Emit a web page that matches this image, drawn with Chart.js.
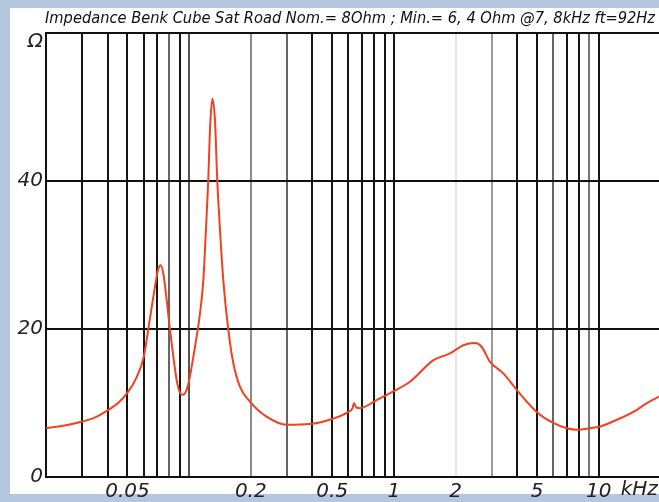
<!DOCTYPE html>
<html>
<head>
<meta charset="utf-8">
<script src="https://cdn.jsdelivr.net/npm/chart.js@4.4.1/dist/chart.umd.min.js"></script>
<style>
  html, body { margin: 0; padding: 0; background: #b4c7df; }
  canvas { display: block; }
</style>
</head>
<body>
<canvas id="impChart" width="659" height="502"></canvas>
<script>
// impedance sweep, frequency in kHz, impedance in ohm
const freqKHz = [
  0.020, 0.025, 0.030, 0.035, 0.040, 0.045, 0.050, 0.055, 0.060, 0.064,
  0.068, 0.0705, 0.0726, 0.0748, 0.0777, 0.0806, 0.0837, 0.0869, 0.0902, 0.093,
  0.0973, 0.1009, 0.1068, 0.113, 0.1173, 0.1208, 0.124, 0.1264, 0.1298, 0.1337,
  0.1372, 0.1415, 0.1468, 0.1553, 0.1643, 0.177, 0.198, 0.239, 0.30, 0.39,
  0.506, 0.599, 0.628, 0.638, 0.655, 0.682, 0.824, 1.0, 1.2, 1.56,
  1.88, 2.18, 2.49, 2.68, 2.94, 3.42, 3.97, 4.98, 6.0, 6.97,
  7.9, 9.06, 10.1, 12.2, 15.3, 17.1, 19.7
];
const impedance = [
  6.6, 7.0, 7.5, 8.1, 9.0, 10.0, 11.4, 13.3, 16.2, 21.0,
  25.6, 28.0, 28.6, 27.5, 23.9, 19.9, 16.3, 13.1, 11.4, 11.1,
  11.8, 13.6, 17.6, 22.1, 26.6, 33.4, 40.1, 46.9, 51.1, 48.2,
  40.1, 33.4, 26.6, 19.9, 15.4, 12.2, 10.2, 8.15, 7.05, 7.15,
  7.9, 8.8, 9.3, 10.0, 9.4, 9.3, 10.4, 11.6, 12.9, 15.8,
  16.7, 17.8, 18.1, 17.6, 15.6, 14.0, 11.8, 8.8, 7.3, 6.6,
  6.4, 6.6, 6.8, 7.7, 9.05, 9.95, 10.85
];

// vertical grid positions and the ones that carry a label
const gridFreqs = [
  0.02, 0.03, 0.04, 0.05, 0.06, 0.07, 0.08, 0.09,
  0.1, 0.2, 0.3, 0.4, 0.5, 0.6, 0.7, 0.8, 0.9,
  1, 2, 3, 4, 5, 6, 7, 8, 9, 10
];
const labelFreqs = [0.05, 0.2, 0.5, 1, 2, 5, 10];
const yTickValues = [0, 20, 40, 60];

const titleText = 'Impedance Benk Cube Sat Road Nom.= 8Ohm ; Min.= 6, 4 Ohm @7, 8kHz ft=92Hz';

// some grid lines come out lighter than the rest
const gridShade = { 0.08: '#666', 0.1: '#555', 0.2: '#8a8a8a', 0.3: '#666', 2: '#e4e4e4', 3: '#999', 6: '#666', 9: '#777' };

const labelFont = { family: '"DejaVu Sans", sans-serif', size: 20, style: 'italic' };

const framePlugin = {
  id: 'frame',
  beforeDraw(chart) {
    const c = chart.ctx;
    c.save();
    c.fillStyle = '#b4c7df';
    c.fillRect(0, 0, chart.width, chart.height);
    c.fillStyle = '#ffffff';
    c.fillRect(10, 8, chart.width - 10, 486);
    c.restore();
  },
  afterDraw(chart) {
    const c = chart.ctx;
    c.save();
    // heading, squeezed to the width of the panel
    c.font = 'italic 15px "Liberation Sans Narrow", "DejaVu Sans Condensed", sans-serif';
    c.fillStyle = '#111';
    c.textBaseline = 'alphabetic';
    const w = c.measureText(titleText).width;
    c.translate(45, 23);
    c.scale(610 / w, 1);
    c.fillText(titleText, 0, 0);
    c.restore();

    const xs = chart.scales.x;
    const ys = chart.scales.y;
    c.save();
    c.font = 'italic 20px "DejaVu Sans", sans-serif';
    c.fillStyle = '#222';
    c.textBaseline = 'middle';
    // unit after the last frequency label
    c.fillText('kHz', xs.getPixelForValue(10) + 22, 490);
    // unit sign just below the top line of the value axis
    c.textAlign = 'right';
    c.fillText('Ω', ys.left + ys.width - 3, ys.getPixelForValue(60) + 9);
    c.restore();
  }
};

new Chart(document.getElementById('impChart').getContext('2d'), {
  type: 'line',
  data: {
    datasets: [{
      data: freqKHz.map((f, i) => ({ x: f, y: impedance[i] })),
      borderColor: '#f2411f',
      borderWidth: 2,
      pointRadius: 0,
      fill: false,
      cubicInterpolationMode: 'monotone'
    }]
  },
  options: {
    responsive: false,
    animation: false,
    layout: { padding: { top: 33, left: 0, right: 0, bottom: 0 } },
    plugins: {
      legend: { display: false },
      title: { display: false },
      tooltip: { enabled: false }
    },
    scales: {
      x: {
        type: 'logarithmic',
        min: 0.02,
        max: 19.7,
        afterBuildTicks(scale) {
          scale.ticks = gridFreqs.map(v => ({ value: v }));
        },
        afterFit(scale) { scale.height = 25; },
        grid: {
          drawTicks: false,
          lineWidth: 2,
          color: ctx => gridShade[ctx.tick && ctx.tick.value] || '#151515'
        },
        border: { color: '#111', width: 2 },
        ticks: {
          autoSkip: false,
          maxRotation: 0,
          padding: 3,
          color: '#222',
          font: labelFont,
          callback: v => labelFreqs.includes(v) ? String(v) : ''
        }
      },
      y: {
        min: 0,
        max: 60,
        afterBuildTicks(scale) {
          scale.ticks = yTickValues.map(v => ({ value: v }));
        },
        afterFit(scale) { scale.width = 46; },
        grid: { drawTicks: false, lineWidth: 2, color: '#111' },
        border: { color: '#111', width: 2 },
        ticks: {
          padding: 3,
          color: '#222',
          font: labelFont,
          callback: v => v === 60 ? '' : String(v)
        }
      }
    }
  },
  plugins: [framePlugin]
});
</script>
</body>
</html>
